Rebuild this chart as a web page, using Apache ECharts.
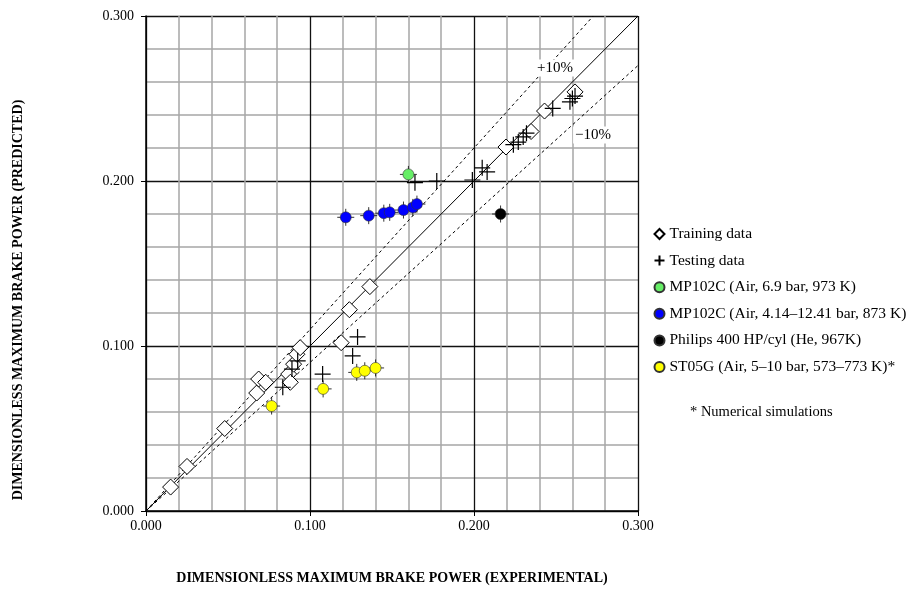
<!DOCTYPE html>
<html>
<head>
<meta charset="utf-8">
<script src="https://cdn.jsdelivr.net/npm/echarts@6/dist/echarts.min.js"></script>
<style>
html, body { margin: 0; padding: 0; background: #fff; }
.kk { width: 908px; height: 593px; }
</style>
</head>
<body>
<div class="kk"></div>
<script>
// reference lines (y = x, +10%, -10%)
var idealLine = [[0, 0], [0.3, 0.3]];
var plusLine = [[0, 0], [0.3 / 1.1, 0.3]];
var minusLine = [[0, 0], [0.3, 0.27]];

// data: [experimental, predicted]
var trainingData = [
    [0.015, 0.0145], [0.025, 0.027], [0.048, 0.050], [0.0675, 0.0715],
    [0.0687, 0.080], [0.073, 0.078], [0.087, 0.083], [0.088, 0.078],
    [0.090, 0.089], [0.092, 0.095], [0.094, 0.099], [0.119, 0.102],
    [0.124, 0.122], [0.1365, 0.136], [0.2195, 0.2206], [0.2348, 0.230],
    [0.243, 0.2424], [0.2616, 0.254]
];
var testingData = [
    [0.0834, 0.075], [0.0925, 0.091], [0.089, 0.086], [0.1077, 0.083],
    [0.126, 0.094], [0.129, 0.1055], [0.164, 0.199], [0.1773, 0.200],
    [0.199, 0.2006], [0.205, 0.208], [0.208, 0.2055], [0.224, 0.222],
    [0.227, 0.2236], [0.230, 0.2267], [0.232, 0.229], [0.248, 0.244],
    [0.2585, 0.248], [0.260, 0.250], [0.2616, 0.2515]
];
var greenData = [[0.160, 0.204]];
var blueData = [
    [0.1218, 0.178], [0.1358, 0.179], [0.145, 0.1805], [0.1486, 0.181],
    [0.157, 0.1824], [0.1627, 0.184], [0.1652, 0.186]
];
var blackData = [[0.2162, 0.180]];
var yellowData = [
    [0.0766, 0.0636], [0.108, 0.074], [0.1285, 0.084], [0.1334, 0.085], [0.140, 0.0867]
];

var legendNames = [
    'Training data',
    'Testing data',
    'MP102C (Air, 6.9 bar, 973 K)',
    'MP102C (Air, 4.14–12.41 bar, 873 K)',
    'Philips 400 HP/cyl (He, 967K)',
    'ST05G (Air, 5–10 bar, 573–773 K)*'
];

var serif = 'Liberation Serif';
var crossPath = 'path://M0,-10L0,10M-10,0L10,0';

var mychart = echarts.init(document.querySelector('.kk'));

function axisCfg(margin) {
    return {
        type: 'value',
        min: 0,
        max: 0.3,
        interval: 0.1,
        axisLine: { show: true, onZero: false, lineStyle: { color: '#000', width: 1.5 } },
        axisTick: { show: true, inside: false, length: 5, lineStyle: { color: '#000', width: 1 } },
        axisLabel: {
            fontFamily: serif, fontSize: 14, color: '#000', margin: margin,
            formatter: function (v) { return v.toFixed(3); }
        },
        splitLine: { show: true, lineStyle: { color: '#111', width: 1.3 } },
        minorTick: { show: false, splitNumber: 5 },
        minorSplitLine: { show: true, lineStyle: { color: '#a6a6a6', width: 1.5 } }
    };
}

function errSeries(data) {
    return {
        name: '',
        type: 'scatter',
        data: data,
        symbol: crossPath,
        symbolSize: 17,
        silent: true,
        z: 3,
        itemStyle: { color: 'none', borderColor: '#000', borderWidth: 1 }
    };
}

function dotSeries(name, data, color) {
    return {
        name: name,
        type: 'scatter',
        data: data,
        symbol: 'circle',
        symbolSize: 11,
        z: 4,
        itemStyle: { color: color, borderColor: '#333', borderWidth: 0.6, opacity: 1 }
    };
}

option = {
    animation: false,
    backgroundColor: '#fff',
    grid: { left: 146, right: 270, top: 16, bottom: 82 },
    xAxis: axisCfg(8),
    yAxis: axisCfg(12),
    legend: {
        orient: 'vertical',
        left: 647,
        top: 221,
        itemWidth: 10,
        itemHeight: 10,
        itemGap: 10.6,
        textStyle: { fontFamily: serif, fontSize: 15.5, color: '#000' },
        data: legendNames
    },
    graphic: [
        {
            type: 'text',
            left: 690,
            top: 405,
            style: { text: '* Numerical simulations', font: '14.5px "Liberation Serif"', fill: '#000' }
        },
        {
            type: 'text',
            x: 392,
            y: 578,
            style: {
                text: 'DIMENSIONLESS MAXIMUM BRAKE POWER (EXPERIMENTAL)',
                font: 'bold 14px "Liberation Serif"', fill: '#000',
                align: 'center', verticalAlign: 'middle'
            }
        },
        {
            type: 'text',
            x: 18,
            y: 300,
            rotation: Math.PI / 2,
            style: {
                text: 'DIMENSIONLESS MAXIMUM BRAKE POWER (PREDICTED)',
                font: 'bold 14px "Liberation Serif"', fill: '#000',
                align: 'center', verticalAlign: 'middle'
            }
        }
    ],
    series: [
        {
            type: 'line', data: idealLine, symbol: 'none', silent: true, z: 2,
            lineStyle: { color: '#000', width: 1 }
        },
        {
            type: 'line', data: plusLine, symbol: 'none', silent: true, z: 2,
            lineStyle: { color: '#000', width: 1, type: [3, 3] },
            markPoint: {
                symbol: 'rect', symbolSize: 1, silent: true,
                itemStyle: { color: 'none' },
                label: {
                    show: true, formatter: '+10%', fontFamily: serif, fontSize: 15, color: '#000',
                    backgroundColor: '#fff', padding: [1, 2]
                },
                data: [{ coord: [0.2494, 0.2685] }]
            }
        },
        {
            type: 'line', data: minusLine, symbol: 'none', silent: true, z: 2,
            lineStyle: { color: '#000', width: 1, type: [3, 3] },
            markPoint: {
                symbol: 'rect', symbolSize: 1, silent: true,
                itemStyle: { color: 'none' },
                label: {
                    show: true, formatter: '\u221210%', fontFamily: serif, fontSize: 15, color: '#000',
                    backgroundColor: '#fff', padding: [1, 2]
                },
                data: [{ coord: [0.2726, 0.2279] }]
            }
        },
        {
            name: legendNames[0],
            type: 'scatter',
            data: trainingData,
            symbol: 'diamond',
            symbolSize: 16,
            z: 3,
            itemStyle: { color: '#fff', borderColor: '#000', borderWidth: 1, opacity: 1 }
        },
        {
            name: legendNames[1],
            type: 'scatter',
            data: testingData,
            symbol: crossPath,
            symbolSize: 16,
            z: 3,
            itemStyle: { color: 'none', borderColor: '#000', borderWidth: 1.2, opacity: 1 }
        },
        errSeries(greenData),
        errSeries(blueData),
        errSeries(blackData),
        errSeries(yellowData),
        dotSeries(legendNames[2], greenData, '#66ee66'),
        dotSeries(legendNames[3], blueData, '#0000ff'),
        dotSeries(legendNames[4], blackData, '#000000'),
        dotSeries(legendNames[5], yellowData, '#ffff00')
    ]
};
mychart.setOption(option);
</script>
</body>
</html>
